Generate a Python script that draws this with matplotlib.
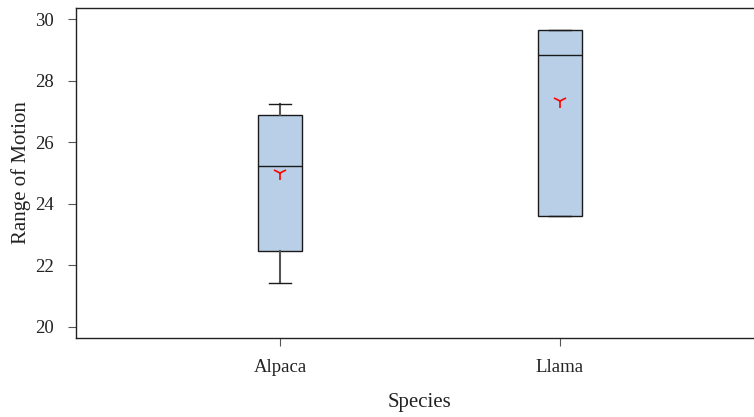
import matplotlib
matplotlib.use("Agg")
import matplotlib.pyplot as plt

categories = ["Alpaca", "Llama"]
whisk_lo = [21.42, 23.59]
q1 = [22.46, 23.59]
median = [25.24, 28.83]
q3 = [26.89, 29.64]
whisk_hi = [27.25, 29.64]
mean = [25.0, 27.35]
yticks = [20, 22, 24, 26, 28, 30]

plt.rcParams['font.family'] = ['Liberation Serif', 'DejaVu Serif']

fig = plt.figure(figsize=(7.54, 4.17), dpi=100)
ax = fig.add_axes([76/754, 1-338/417, (764-76)/754, (338-8)/417])

stats = []
for i, c in enumerate(categories):
    stats.append(dict(label=c, whislo=whisk_lo[i], q1=q1[i], med=median[i],
                      q3=q3[i], whishi=whisk_hi[i], mean=mean[i], fliers=[]))

ax.bxp(stats, positions=[1, 2], widths=0.154, patch_artist=True, showmeans=True,
       capwidths=0.08,
       boxprops=dict(facecolor='#b9cfe7', edgecolor='#1a1a1a', linewidth=1.0),
       medianprops=dict(color='#1a1a1a', linewidth=1.0),
       whiskerprops=dict(color='#555555', linewidth=1.5),
       capprops=dict(color='#1a1a1a', linewidth=1.0),
       meanprops=dict(marker='1', markeredgecolor='red', markerfacecolor='red',
                      markersize=10, markeredgewidth=1.2))

ax.set_xlim(0.271, 2.729)
ax.set_ylim(19.64, 30.36)
ax.set_yticks(yticks)
ax.set_xticks([1, 2])
ax.set_xticklabels(categories)
ax.tick_params(axis='both', direction='out', length=6, color='#555555',
               labelsize=13.5, labelcolor='#222222')
ax.tick_params(axis='x', pad=9)
ax.tick_params(axis='y', pad=10)
for s in ['top', 'bottom', 'left', 'right']:
    ax.spines[s].set_color('#222222')
    ax.spines[s].set_linewidth(1.0)
ax.set_xlabel("Species", fontsize=15, labelpad=12, color='#222222')
ax.set_ylabel("Range of Motion", fontsize=15, color='#222222')
ax.yaxis.set_label_coords((31 - 76) / 688, 0.5)

fig.savefig("out.png", dpi=100)
